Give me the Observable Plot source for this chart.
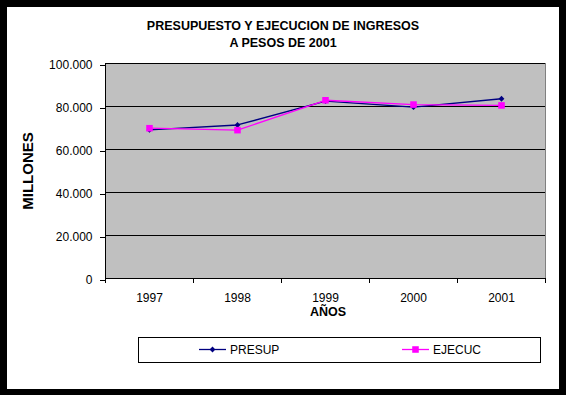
<!DOCTYPE html>
<html><head><meta charset="utf-8">
<script src="https://cdn.jsdelivr.net/npm/d3@7"></script>
<script src="https://cdn.jsdelivr.net/npm/@observablehq/plot@0.6"></script>
<style>
html,body{margin:0;padding:0;background:#000;width:566px;height:395px;overflow:hidden;}
#chart{position:absolute;left:7px;top:7px;width:552px;height:382px;background:#fff;}
#chart svg{display:block;}
</style></head><body><div id="chart"></div>
<script>
const years = [1997, 1998, 1999, 2000, 2001];
const presup = [69100, 71400, 82500, 79700, 83600];
const ejecuc = [69900, 69000, 82900, 80900, 80500];
const yTicks = [0, 20000, 40000, 60000, 80000, 100000];
const seriesNames = ["PRESUP", "EJECUC"];
const colors = ["#000080", "#FF00FF"];
const titleLines = ["PRESUPUESTO Y EJECUCION DE INGRESOS", "A PESOS DE 2001"];
const yLabel = "MILLONES";
const xLabel = "AÑOS";

const rows = [
  ...years.map((y, i) => ({year: y, value: presup[i], series: seriesNames[0]})),
  ...years.map((y, i) => ({year: y, value: ejecuc[i], series: seriesNames[1]}))
];
const x0 = years[0] - 0.5, x1 = years[years.length - 1] + 0.5;
const bounds = d3.range(years.length + 1).map(i => x0 + i);
const fmt = d => d3.format(",")(d).replace(/,/g, ".");
const font = "'Liberation Sans', Arial, sans-serif";

const W = 552, H = 382;
const svg = Plot.plot({
  width: W, height: H,
  marginLeft: 98, marginRight: 14, marginTop: 56, marginBottom: 111,
  style: {background: "transparent", fontFamily: font, fontSize: "12px", color: "#000", overflow: "visible"},
  x: {domain: [x0, x1]},
  y: {domain: [0, 100000]},
  color: {domain: seriesNames, range: colors},
  marks: [
    Plot.frame({fill: "#c0c0c0", stroke: "#808080"}),
    Plot.gridY(yTicks, {stroke: "#000", strokeOpacity: 1}),
    Plot.ruleY([0], {stroke: "#000"}),
    Plot.ruleX([x0], {stroke: "#000"}),
    Plot.axisY({ticks: yTicks, tickFormat: fmt, tickSize: 5, tickPadding: 8, label: null, stroke: "#000", dy: 2}),
    Plot.axisX({ticks: bounds, tickFormat: () => "", tickSize: 5, label: null, stroke: "#000"}),
    Plot.axisX({ticks: years, tickFormat: d => String(d), tickSize: 0, tickPadding: 15, label: null}),
    Plot.line(rows.filter(d => d.series === seriesNames[0]), {x: "year", y: "value", stroke: "series", strokeWidth: 1.3}),
    Plot.dot(rows.filter(d => d.series === seriesNames[0]), {x: "year", y: "value", fill: "series", symbol: "diamond2", r: 2.6}),
    Plot.line(rows.filter(d => d.series === seriesNames[1]), {x: "year", y: "value", stroke: "series", strokeWidth: 1.3}),
    Plot.dot(rows.filter(d => d.series === seriesNames[1]), {x: "year", y: "value", fill: "series", symbol: "square", r: 3.7})
  ]
});
document.getElementById("chart").appendChild(svg);

const s = d3.select(svg);
// title
s.append("g").selectAll("text").data(titleLines).join("text")
  .attr("x", 276).attr("y", (d, i) => 23 + i * 17)
  .attr("text-anchor", "middle")
  .attr("font-family", font).attr("font-weight", "bold").attr("font-size", "12.5px")
  .attr("fill", "#000").text(d => d);
// y label
s.append("text")
  .attr("transform", "translate(21,164) rotate(-90)")
  .attr("text-anchor", "middle").attr("dy", "0.36em")
  .attr("font-family", font).attr("font-weight", "bold").attr("font-size", "15px")
  .attr("fill", "#000").text(yLabel);
// x label
s.append("text")
  .attr("x", 321).attr("y", 309).attr("text-anchor", "middle")
  .attr("font-family", font).attr("font-weight", "bold").attr("font-size", "12.5px")
  .attr("fill", "#000").text(xLabel);
// legend
const lg = s.append("g");
lg.append("rect").attr("x", 131.5).attr("y", 330.5).attr("width", 402).attr("height", 25)
  .attr("fill", "#fff").attr("stroke", "#000");
const legX = [192, 395];
const syms = [d3.symbol(d3.symbolDiamond2, Math.PI * 2.6 * 2.6), d3.symbol(d3.symbolSquare, Math.PI * 3.7 * 3.7)];
seriesNames.forEach((name, i) => {
  const g = lg.append("g").attr("transform", `translate(${legX[i]},342.5)`);
  g.append("line").attr("x1", 0).attr("x2", 27).attr("y1", 0).attr("y2", 0)
    .attr("stroke", colors[i]).attr("stroke-width", 1.3);
  g.append("path").attr("d", syms[i]()).attr("transform", "translate(13.5,0)").attr("fill", colors[i]);
  g.append("text").attr("x", 31).attr("y", 0).attr("dy", "0.36em").attr("text-anchor", "start")
    .attr("font-family", font).attr("font-size", "12px").attr("fill", "#000").text(name);
});
</script>
</body></html>
